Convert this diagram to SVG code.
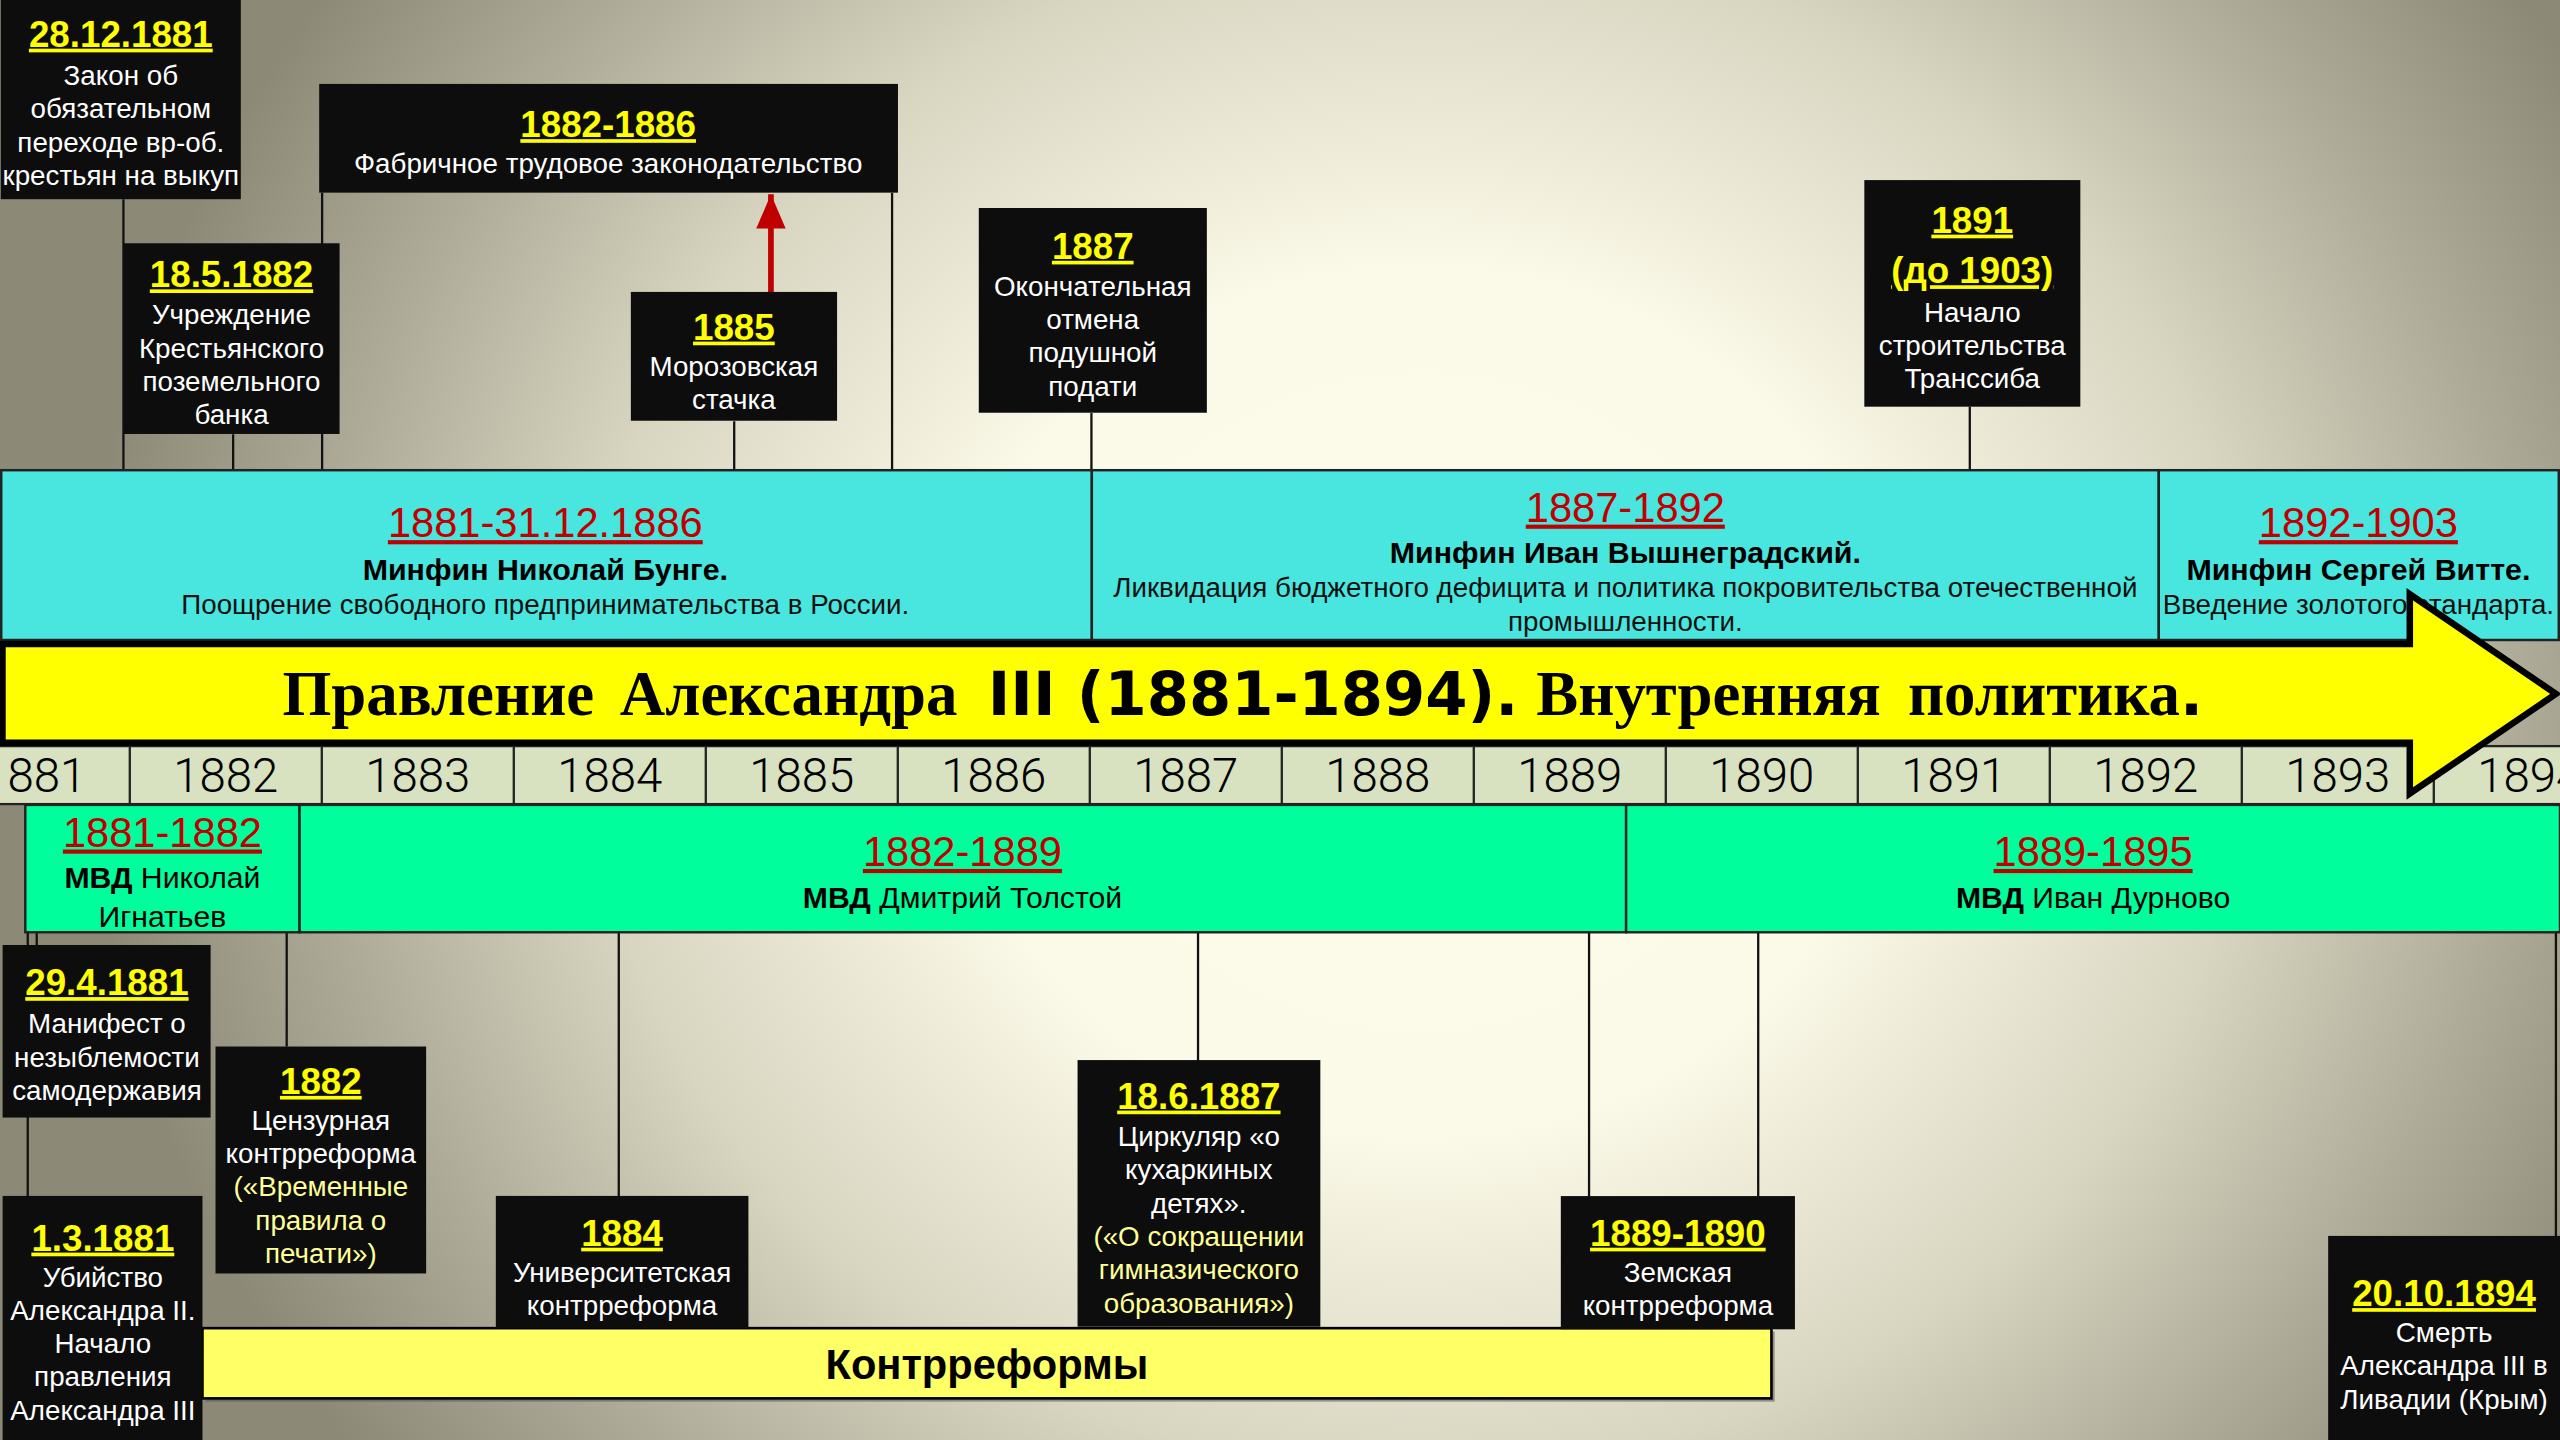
<svg xmlns="http://www.w3.org/2000/svg" width="2560" height="1440" viewBox="0 0 2560 1440">
<defs>
<radialGradient id="bg" gradientUnits="userSpaceOnUse" cx="0" cy="0" r="1" gradientTransform="translate(1420,702) scale(1339,1241)">
<stop offset="0" stop-color="#fdfbec"/>
<stop offset="0.35" stop-color="#fbf9e7"/>
<stop offset="0.62" stop-color="#d8d5c1"/>
<stop offset="0.82" stop-color="#aeab98"/>
<stop offset="1" stop-color="#8c8977"/>
</radialGradient>
<marker id="redHead" markerUnits="userSpaceOnUse" markerWidth="22" markerHeight="20" refX="21" refY="9" orient="auto">
<path d="M0,0 L21,9 L0,18 z" fill="#c00000"/>
</marker>
<style>
.box{fill:#0d0d0d}
.t{font-family:'Liberation Sans',Arial,sans-serif;font-weight:bold;font-size:22.5px;fill:#ffff00;text-anchor:middle;text-decoration:underline;text-decoration-thickness:2.5px}
.b{font-family:'Liberation Sans',Arial,sans-serif;font-size:17px;fill:#ffffff;text-anchor:middle}
.by{fill:#ffff99}
.con{stroke:#111;stroke-width:1.4;fill:none}
.cyan{fill:#48e6de;stroke:#222;stroke-width:1.5}
.green{fill:#00ff9c;stroke:#222;stroke-width:1.5}
.rt{font-family:'Liberation Sans',Arial,sans-serif;font-size:25.5px;fill:#c00000;text-anchor:middle;text-decoration:underline;text-decoration-thickness:3px}
.nm{font-family:'Liberation Sans',Arial,sans-serif;font-weight:bold;font-size:18.6px;fill:#000;text-anchor:middle}
.ds{font-family:'Liberation Sans',Arial,sans-serif;font-size:17px;fill:#111;text-anchor:middle}
.mv{font-family:'Liberation Sans',Arial,sans-serif;font-size:18.5px;fill:#000;text-anchor:middle}
.yr{font-family:Roboto,'Liberation Sans',sans-serif;font-weight:300;font-size:29px;fill:#000;text-anchor:middle}
.sep{stroke:#222;stroke-width:1.4}
.serif{font-family:'Liberation Serif','Times New Roman',serif;font-weight:bold}
.heavy{font-family:'DejaVu Sans',sans-serif;font-weight:bold}
</style>
</defs>
<rect width="2560" height="1440" fill="url(#bg)"/>
<g transform="scale(1.632653)">

<!-- connectors -->
<g id="connectors">
<line class="con" x1="75.6" y1="122" x2="75.6" y2="288"/>
<line class="con" x1="142.8" y1="266" x2="142.8" y2="288"/>
<line class="con" x1="197.3" y1="118" x2="197.3" y2="288"/>
<line class="con" x1="449.7" y1="258" x2="449.7" y2="288"/>
<line class="con" x1="546.4" y1="118" x2="546.4" y2="288"/>
<line class="con" x1="668.5" y1="253" x2="668.5" y2="288"/>
<line class="con" x1="1206.5" y1="249" x2="1206.5" y2="288"/>
<line x1="472.2" y1="179" x2="472.2" y2="119" stroke="#c00000" stroke-width="3.5" marker-end="url(#redHead)"/>
<line class="con" x1="17" y1="571" x2="17" y2="733"/>
<line class="con" x1="22.5" y1="571" x2="22.5" y2="579"/>
<line class="con" x1="175.6" y1="571" x2="175.6" y2="641"/>
<line class="con" x1="379" y1="571" x2="379" y2="733"/>
<line class="con" x1="733.8" y1="571" x2="733.8" y2="650"/>
<line class="con" x1="973.3" y1="571" x2="973.3" y2="733"/>
<line class="con" x1="1076.9" y1="571" x2="1076.9" y2="733"/>
<line class="con" x1="1565.5" y1="571" x2="1565.5" y2="757"/>
</g>

<!-- top nodes -->
<g id="n-28-12-1881">
<rect class="box" x="0.5" y="0" width="147" height="122"/>
<text class="t" x="74" y="28.6">28.12.1881</text>
<text class="b" x="74" y="52">Закон об</text>
<text class="b" x="74" y="72.5">обязательном</text>
<text class="b" x="74" y="93">переходе вр-об.</text>
<text class="b" x="74" y="113.4">крестьян на выкуп</text>
</g>
<g id="n-1882-1886">
<rect class="box" x="195.5" y="51.4" width="354.5" height="66.6"/>
<text class="t" x="372.5" y="84">1882-1886</text>
<text class="b" x="372.5" y="106">Фабричное трудовое законодательство</text>
</g>
<g id="n-18-5-1882">
<rect class="box" x="75.6" y="149" width="132.4" height="116.8"/>
<text class="t" x="141.8" y="176">18.5.1882</text>
<text class="b" x="141.8" y="198.5">Учреждение</text>
<text class="b" x="141.8" y="219">Крестьянского</text>
<text class="b" x="141.8" y="239.4">поземельного</text>
<text class="b" x="141.8" y="259.8">банка</text>
</g>
<g id="n-1885">
<rect class="box" x="386.4" y="178.8" width="126.3" height="78.9"/>
<text class="t" x="449.5" y="208">1885</text>
<text class="b" x="449.5" y="230">Морозовская</text>
<text class="b" x="449.5" y="250.5">стачка</text>
</g>
<g id="n-1887">
<rect class="box" x="599.5" y="127.4" width="139.7" height="125.4"/>
<text class="t" x="669.3" y="158.5">1887</text>
<text class="b" x="669.3" y="181">Окончательная</text>
<text class="b" x="669.3" y="201.5">отмена</text>
<text class="b" x="669.3" y="222">подушной</text>
<text class="b" x="669.3" y="242.4">подати</text>
</g>
<g id="n-1891">
<rect class="box" x="1141.9" y="110.3" width="132.3" height="138.8"/>
<text class="t" x="1208" y="142.5">1891</text>
<text class="t" x="1208" y="173.5">(до 1903)</text>
<text class="b" x="1208" y="197">Начало</text>
<text class="b" x="1208" y="217.4">строительства</text>
<text class="b" x="1208" y="237.8">Транссиба</text>
</g>

<!-- finance ministers band -->
<g id="minfin-bunge">
<rect class="cyan" x="0.75" y="288" width="668" height="104"/>
<text class="rt" x="334" y="329">1881-31.12.1886</text>
<text class="nm" x="334" y="355.3">Минфин Николай Бунге.</text>
<text class="ds" x="334" y="376.3">Поощрение свободного предпринимательства в России.</text>
</g>
<g id="minfin-vyshnegradsky">
<rect class="cyan" x="668.75" y="288" width="653.5" height="104"/>
<text class="rt" x="995.5" y="319.5">1887-1892</text>
<text class="nm" x="995.5" y="345">Минфин Иван Вышнеградский.</text>
<text class="ds" x="995.5" y="365.5">Ликвидация бюджетного дефицита и политика покровительства отечественной</text>
<text class="ds" x="995.5" y="386.3">промышленности.</text>
</g>
<g id="minfin-witte">
<rect class="cyan" x="1322.25" y="288" width="245" height="104"/>
<text class="rt" x="1444.5" y="329">1892-1903</text>
<text class="nm" x="1444.5" y="355.3">Минфин Сергей Витте.</text>
<text class="ds" x="1444.5" y="376.3">Введение золотого стандарта.</text>
</g>

<!-- years row -->
<g id="years">
<rect x="-2" y="457" width="1572" height="35.5" fill="#d8e1c0" stroke="#222" stroke-width="1.4"/>
<line class="sep" x1="79.5" y1="457" x2="79.5" y2="492.5"/>
<line class="sep" x1="197.1" y1="457" x2="197.1" y2="492.5"/>
<line class="sep" x1="314.7" y1="457" x2="314.7" y2="492.5"/>
<line class="sep" x1="432.3" y1="457" x2="432.3" y2="492.5"/>
<line class="sep" x1="549.9" y1="457" x2="549.9" y2="492.5"/>
<line class="sep" x1="667.5" y1="457" x2="667.5" y2="492.5"/>
<line class="sep" x1="785.1" y1="457" x2="785.1" y2="492.5"/>
<line class="sep" x1="902.7" y1="457" x2="902.7" y2="492.5"/>
<line class="sep" x1="1020.3" y1="457" x2="1020.3" y2="492.5"/>
<line class="sep" x1="1137.9" y1="457" x2="1137.9" y2="492.5"/>
<line class="sep" x1="1255.5" y1="457" x2="1255.5" y2="492.5"/>
<line class="sep" x1="1373.1" y1="457" x2="1373.1" y2="492.5"/>
<line class="sep" x1="1490.7" y1="457" x2="1490.7" y2="492.5"/>
<text class="yr" x="20.7" y="485">1881</text>
<text class="yr" x="138.3" y="485">1882</text>
<text class="yr" x="255.9" y="485">1883</text>
<text class="yr" x="373.5" y="485">1884</text>
<text class="yr" x="491.1" y="485">1885</text>
<text class="yr" x="608.7" y="485">1886</text>
<text class="yr" x="726.3" y="485">1887</text>
<text class="yr" x="843.9" y="485">1888</text>
<text class="yr" x="961.5" y="485">1889</text>
<text class="yr" x="1079.1" y="485">1890</text>
<text class="yr" x="1196.7" y="485">1891</text>
<text class="yr" x="1314.3" y="485">1892</text>
<text class="yr" x="1431.9" y="485">1893</text>
<text class="yr" x="1549.5" y="485">1894</text>
</g>

<!-- main arrow -->
<g id="main-arrow">
<path d="M1.5,394.5 L1476,394.5 L1476,364 L1565.5,425 L1476,486 L1476,455 L1.5,455 Z" fill="#ffff00" stroke="#000" stroke-width="4" stroke-linejoin="miter"/>
<text y="438" font-size="38.5" fill="#000"><tspan x="173" class="serif" word-spacing="6">Правление Александра</tspan><tspan x="605" class="heavy" font-size="37.2">III (1881-1894).</tspan><tspan x="941" class="serif" word-spacing="7">Внутренняя политика</tspan><tspan class="heavy" font-size="37.2">.</tspan></text>
</g>

<!-- interior ministers band -->
<g id="mvd-ignatiev">
<rect class="green" x="15.5" y="493" width="168" height="78"/>
<text class="rt" x="99.5" y="518.5">1881-1882</text>
<text class="mv" x="99.5" y="544"><tspan font-weight="bold">МВД</tspan> Николай</text>
<text class="mv" x="99.5" y="567.5">Игнатьев</text>
</g>
<g id="mvd-tolstoy">
<rect class="green" x="183.5" y="493" width="812.5" height="78"/>
<text class="rt" x="589.5" y="530.4">1882-1889</text>
<text class="mv" x="589.5" y="556.3"><tspan font-weight="bold">МВД</tspan> Дмитрий Толстой</text>
</g>
<g id="mvd-durnovo">
<rect class="green" x="996" y="493" width="572" height="78"/>
<text class="rt" x="1282" y="530.4">1889-1895</text>
<text class="mv" x="1282" y="556.3"><tspan font-weight="bold">МВД</tspan> Иван Дурново</text>
</g>

<!-- counter-reforms bar -->
<g id="kontrreformy">
<rect x="126" y="815.5" width="961" height="43" fill="#555" opacity="0.55"/>
<rect x="124" y="813.5" width="961" height="43" fill="#ffff66" stroke="#000" stroke-width="1.6"/>
<text x="604.5" y="844.5" font-family="'Liberation Sans',Arial,sans-serif" font-weight="bold" font-size="25.5" text-anchor="middle" fill="#000">Контрреформы</text>
</g>

<!-- bottom nodes -->
<g id="n-29-4-1881">
<rect class="box" x="1.6" y="578.8" width="127.4" height="105.7"/>
<text class="t" x="65.5" y="609.5">29.4.1881</text>
<text class="b" x="65.5" y="633">Манифест о</text>
<text class="b" x="65.5" y="653.4">незыблемости</text>
<text class="b" x="65.5" y="673.8">самодержавия</text>
</g>
<g id="n-1882-cens">
<rect class="box" x="132" y="641" width="129" height="139"/>
<text class="t" x="196.5" y="670">1882</text>
<text class="b" x="196.5" y="692">Цензурная</text>
<text class="b" x="196.5" y="712.4">контрреформа</text>
<text class="b by" x="196.5" y="732.8">(«Временные</text>
<text class="b by" x="196.5" y="753.2">правила о</text>
<text class="b by" x="196.5" y="773.6">печати»)</text>
</g>
<g id="n-1-3-1881">
<rect class="box" x="1.6" y="732.5" width="122.4" height="150"/>
<text class="t" x="63" y="766">1.3.1881</text>
<text class="b" x="63" y="788">Убийство</text>
<text class="b" x="63" y="808.4">Александра II.</text>
<text class="b" x="63" y="828.8">Начало</text>
<text class="b" x="63" y="849.2">правления</text>
<text class="b" x="63" y="869.6">Александра III</text>
</g>
<g id="n-1884">
<rect class="box" x="303.7" y="732.5" width="154.7" height="81"/>
<text class="t" x="381" y="763">1884</text>
<text class="b" x="381" y="785">Университетская</text>
<text class="b" x="381" y="805.4">контрреформа</text>
</g>
<g id="n-18-6-1887">
<rect class="box" x="660" y="649.3" width="148.7" height="163.3"/>
<text class="t" x="734.3" y="679">18.6.1887</text>
<text class="b" x="734.3" y="702">Циркуляр «о</text>
<text class="b" x="734.3" y="722.4">кухаркиных</text>
<text class="b" x="734.3" y="742.8">детях».</text>
<text class="b by" x="734.3" y="763.2">(«О сокращении</text>
<text class="b by" x="734.3" y="783.6">гимназического</text>
<text class="b by" x="734.3" y="804">образования»)</text>
</g>
<g id="n-1889-1890">
<rect class="box" x="956" y="732.6" width="143.4" height="81.6"/>
<text class="t" x="1027.7" y="763">1889-1890</text>
<text class="b" x="1027.7" y="785">Земская</text>
<text class="b" x="1027.7" y="805.4">контрреформа</text>
</g>
<g id="n-20-10-1894">
<rect class="box" x="1426" y="757" width="143" height="126"/>
<text class="t" x="1497" y="800">20.10.1894</text>
<text class="b" x="1497" y="822">Смерть</text>
<text class="b" x="1497" y="842.4">Александра III в</text>
<text class="b" x="1497" y="862.8">Ливадии (Крым)</text>
</g>

</g>
</svg>
